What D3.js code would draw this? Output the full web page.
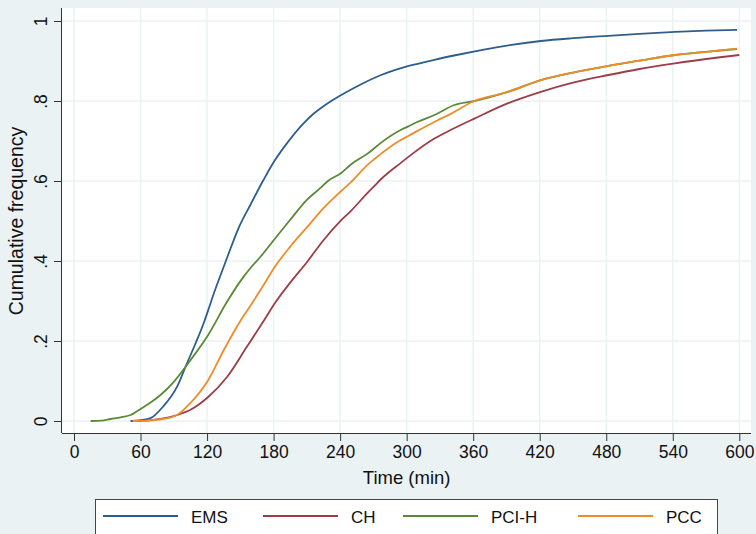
<!DOCTYPE html>
<html><head><meta charset="utf-8">
<script src="https://cdn.jsdelivr.net/npm/d3@7"></script>
<style>body{margin:0;background:#eaf2f3}svg{display:block}text{font-family:"Liberation Sans",Arial,sans-serif;fill:#111}</style>
</head><body>
<svg id="c" width="756" height="534"></svg>
<script>
const seriesNames = ["EMS","CH","PCI-H","PCC"];
const seriesColors = ["#2e5f8c","#9e3c47","#5b8a36","#f08c28"];
const xTicks = [0,60,120,180,240,300,360,420,480,540,600];
const yTicks = [0,0.2,0.4,0.6,0.8,1];
const yTickLabels = ["0",".2",".4",".6",".8","1"];

const emsTime = [51,60,69,80,93,102,109,117,122,126,134,141,149,159,171,181,192,207,216,225,232,241,259,277,295,310,325,345,365,385,421,450,482,510,542,570,598];
const emsValue = [0,0.002,0.007,0.035,0.086,0.145,0.19,0.245,0.285,0.318,0.378,0.43,0.486,0.54,0.603,0.651,0.694,0.744,0.768,0.787,0.80,0.815,0.842,0.865,0.882,0.893,0.903,0.915,0.926,0.936,0.95,0.957,0.963,0.968,0.973,0.976,0.978];

const chTime = [57,70,82,93,105,121,138,156,171,182,195,210,225,241,250,266,271,277,295,301,325,340,361,391,421,450,482,510,542,570,600];
const chValue = [0,0.002,0.007,0.015,0.028,0.06,0.11,0.186,0.25,0.298,0.346,0.397,0.452,0.502,0.526,0.574,0.588,0.605,0.646,0.659,0.706,0.728,0.756,0.794,0.823,0.846,0.865,0.88,0.894,0.905,0.915];

const pcihTime = [15,25,33,42,51,61,70,78,90,105,121,138,153,159,168,181,195,210,222,229,241,250,265,277,295,301,310,325,343,361,391,421,450,482,510,542,570,598];
const pcihValue = [0,0.001,0.005,0.009,0.015,0.032,0.048,0.065,0.098,0.152,0.215,0.298,0.361,0.382,0.41,0.455,0.503,0.553,0.582,0.6,0.62,0.642,0.669,0.696,0.728,0.736,0.748,0.765,0.79,0.80,0.823,0.852,0.871,0.888,0.901,0.915,0.923,0.93];

const pccTime = [53,65,80,93,105,121,135,150,160,171,181,195,210,225,241,250,265,271,295,301,328,337,361,391,421,450,482,510,542,570,598];
const pccValue = [0,0.001,0.005,0.015,0.045,0.102,0.177,0.25,0.292,0.34,0.385,0.436,0.484,0.532,0.575,0.598,0.641,0.655,0.703,0.712,0.752,0.764,0.80,0.822,0.852,0.871,0.888,0.901,0.915,0.923,0.931];

const series = [
  {name:seriesNames[0], t:emsTime, v:emsValue, color:seriesColors[0]},
  {name:seriesNames[1], t:chTime, v:chValue, color:seriesColors[1]},
  {name:seriesNames[2], t:pcihTime, v:pcihValue, color:seriesColors[2]},
  {name:seriesNames[3], t:pccTime, v:pccValue, color:seriesColors[3]}
];

const svg = d3.select("#c");
const x = d3.scaleLinear().domain([0,600]).range([74,739.3]);
const y = d3.scaleLinear().domain([0,1]).range([421,21]);
const plotL = 62, plotR = 751, plotT = 8, plotB = 433;

svg.append("rect").attr("x",0).attr("y",0).attr("width",756).attr("height",534).attr("fill","#eaf2f3");
svg.append("rect").attr("x",plotL).attr("y",plotT).attr("width",plotR-plotL).attr("height",plotB-plotT).attr("fill","#fff");

// grid
svg.append("g").selectAll("line").data(xTicks).join("line")
  .attr("x1",d=>x(d)).attr("x2",d=>x(d)).attr("y1",plotT).attr("y2",plotB)
  .attr("stroke","#eaf2f3").attr("stroke-width",1.5);
svg.append("g").selectAll("line").data(yTicks).join("line")
  .attr("x1",plotL).attr("x2",plotR).attr("y1",d=>y(d)).attr("y2",d=>y(d))
  .attr("stroke","#eaf2f3").attr("stroke-width",1.5);

// curves
const line = d3.line().x(d=>x(d[0])).y(d=>y(d[1])).curve(d3.curveMonotoneX);
series.forEach(s=>{
  svg.append("path").datum(s.t.map((t,i)=>[t,s.v[i]]))
    .attr("d",line).attr("fill","none").attr("stroke",s.color).attr("stroke-width",1.8);
});

// axes
const xAxis = d3.axisBottom(x).tickValues(xTicks).tickSize(8).tickPadding(5);
const gx = svg.append("g").attr("transform",`translate(0,${plotB})`).call(xAxis);
gx.select(".domain").attr("d",`M${plotL},0.5H${plotR}`).attr("stroke","#333");
gx.selectAll(".tick line").attr("stroke","#333");
gx.selectAll(".tick text").attr("font-size","17.5px").attr("fill","#111").attr("font-family","Liberation Sans, Arial, sans-serif");

const yAxis = d3.axisLeft(y).tickValues(yTicks).tickFormat((d,i)=>yTickLabels[i]).tickSize(8).tickPadding(5);
const gy = svg.append("g").attr("transform",`translate(${plotL},0)`).call(yAxis);
gy.select(".domain").attr("d",`M-0.5,${plotT}V${plotB}`).attr("stroke","#333");
gy.selectAll(".tick line").attr("stroke","#333");
gy.selectAll(".tick text").attr("font-size","17.5px").attr("fill","#111").attr("font-family","Liberation Sans, Arial, sans-serif")
  .attr("text-anchor","middle").attr("dy",null).attr("x",null)
  .attr("transform","translate(-15,0) rotate(-90)");

svg.append("text").attr("x",(x(0)+x(600))/2).attr("y",484).attr("text-anchor","middle")
  .attr("font-size","18.5px").text("Time (min)");
svg.append("text").attr("transform","translate(23,221) rotate(-90)").attr("text-anchor","middle")
  .attr("font-size","19.5px").text("Cumulative frequency");

// legend
svg.append("rect").attr("x",95.5).attr("y",499.5).attr("width",622).attr("height",50)
  .attr("fill","#fff").attr("stroke","#444").attr("stroke-width",1);
const legX = [103,263,403,578];
series.forEach((s,i)=>{
  svg.append("line").attr("x1",legX[i]).attr("x2",legX[i]+75).attr("y1",516).attr("y2",516)
    .attr("stroke",s.color).attr("stroke-width",1.8);
  svg.append("text").attr("x",legX[i]+88).attr("y",522.5).attr("font-size","17px").text(s.name);
});
</script>
</body></html>
